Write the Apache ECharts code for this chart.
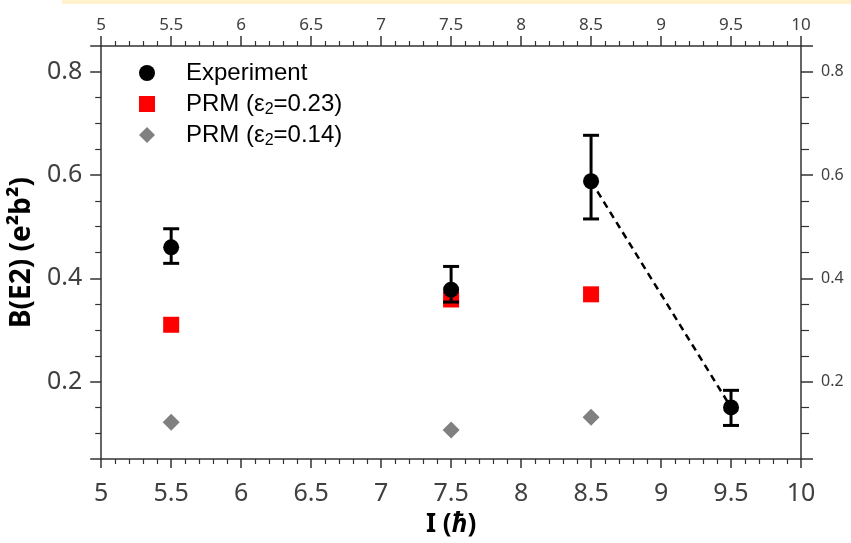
<!DOCTYPE html>
<html>
<head>
<meta charset="utf-8">
<script src="https://cdn.jsdelivr.net/npm/echarts@6/dist/echarts.min.js"></script>
<style>
html,body{margin:0;padding:0;background:#fff;}
#chart{width:851px;height:543px;}
</style>
</head>
<body>
<div id="chart"></div>
<script>
// Data
const spins = [5.5, 7.5, 8.5, 9.5];
const expValues = [0.460, 0.378, 0.588, 0.150];
const expUpper = [0.496, 0.423, 0.677, 0.183];
const expLower = [0.429, 0.354, 0.515, 0.115];
const prmSpins = [5.5, 7.5, 8.5];
const prm023 = [0.310, 0.359, 0.369];
const prm014 = [0.121, 0.106, 0.131];
const dashedSpins = [8.5, 9.5];
const dashedValues = [0.588, 0.150];
const seriesNames = ['Experiment', 'PRM (ε2=0.23)', 'PRM (ε2=0.14)'];

const zip = (xs, ys) => xs.map((x, i) => [x, ys[i]]);

const axisColor = '#333';
const labelColor = '#404040';

function xAxisCfg(pos, fontSize, margin, majorLen, minorLen, withName) {
  const cfg = {
    type: 'value', position: pos, min: 5, max: 10, interval: 0.5,
    axisLine: { show: true, onZero: false, lineStyle: { color: axisColor, width: 1.5 } },
    axisTick: { show: true, inside: false, length: majorLen, lineStyle: { color: axisColor, width: 1.5 } },
    minorTick: { show: true, splitNumber: 5, length: minorLen, lineStyle: { color: axisColor, width: 1.2 } },
    splitLine: { show: false },
    axisLabel: { fontSize: fontSize, color: labelColor, margin: margin, fontFamily: 'Noto Sans' }
  };
  if (withName) {
    cfg.name = '{b|I (}{i|ħ}{b|)}';
    cfg.nameLocation = 'middle';
    cfg.nameGap = 53;
    cfg.nameTextStyle = {
      rich: {
        b: { fontSize: 26, fontWeight: 'bold', color: '#000', fontFamily: 'Noto Sans' },
        i: { fontSize: 26, fontWeight: 'bold', fontStyle: 'italic', color: '#000', fontFamily: 'Noto Sans' }
      }
    };
  }
  return cfg;
}

function yAxisCfg(pos, fontSize, margin, majorLen, minorLen, withName) {
  const cfg = {
    type: 'value', position: pos, min: 0.05, max: 0.85, splitNumber: 4,
    axisLine: { show: true, onZero: false, lineStyle: { color: axisColor, width: 1.5 } },
    axisTick: { show: true, inside: false, length: majorLen, lineStyle: { color: axisColor, width: 1.5 } },
    minorTick: { show: true, splitNumber: 4, length: minorLen, lineStyle: { color: axisColor, width: 1.2 } },
    splitLine: { show: false },
    axisLabel: { fontSize: fontSize, color: labelColor, margin: margin, fontFamily: 'Noto Sans',
      showMinLabel: false, showMaxLabel: false,
      formatter: v => v.toFixed(1) }
  };
  if (withName) {
    cfg.name = 'B(E2) (e²b²)';
    cfg.nameLocation = 'middle';
    cfg.nameGap = 57;
    cfg.nameTextStyle = { fontSize: 28, fontWeight: 'bold', color: '#000', fontFamily: 'Noto Sans' };
  }
  return cfg;
}

const chart = echarts.init(document.getElementById('chart'), null, { renderer: 'canvas' });

const legendRich = {
  a: { fontSize: 24, color: '#000', fontFamily: 'Liberation Sans' },
  s: { fontSize: 16, color: '#000', fontFamily: 'Liberation Sans', verticalAlign: 'bottom', padding: [10, 0, 0, 0] }
};

chart.setOption({
  animation: false,
  backgroundColor: '#fff',
  graphic: [{
    type: 'rect', left: 62, top: 0, shape: { width: 789, height: 4 },
    style: { fill: '#FFF2CC' }, silent: true
  }],
  grid: { left: 101, right: 50, top: 46, bottom: 82, containLabel: false },
  legend: {
    orient: 'vertical', left: 134, top: 54,
    itemWidth: 16, itemHeight: 16, itemGap: 3,
    data: [
      { name: seriesNames[0], icon: 'circle' },
      { name: seriesNames[1], icon: 'rect' },
      { name: seriesNames[2], icon: 'diamond' }
    ],
    formatter: name => {
      const m = name.split('ε2');
      if (m.length === 2) return '{a|' + m[0] + 'ε}{s|2}{a|' + m[1] + '}';
      return '{a|' + name + '}';
    },
    textStyle: { lineHeight: 28, padding: [0, 0, 0, 26], rich: legendRich }
  },
  xAxis: [
    xAxisCfg('bottom', 25, 22, 9, 5, true),
    xAxisCfg('top', 17, 12, 10, 5, false)
  ],
  yAxis: [
    yAxisCfg('left', 25, 19, 11, 6, true),
    yAxisCfg('right', 16, 20, 12, 8, false)
  ],
  series: [
    {
      type: 'line', name: 'dashed', data: zip(dashedSpins, dashedValues),
      symbol: 'none', z: 1,
      lineStyle: { color: '#000', width: 2.5, type: [7, 5] }
    },
    {
      type: 'scatter', name: seriesNames[1], data: zip(prmSpins, prm023),
      symbol: 'rect', symbolSize: 16, z: 2,
      itemStyle: { color: '#FF0000', opacity: 1 }
    },
    {
      type: 'scatter', name: seriesNames[2], data: zip(prmSpins, prm014),
      symbol: 'diamond', symbolSize: 17, z: 2,
      itemStyle: { color: '#808080', opacity: 1 }
    },
    {
      type: 'custom', name: 'errors', z: 3,
      data: spins.map((x, i) => [x, expLower[i], expUpper[i]]),
      encode: { x: 0, y: [1, 2] },
      renderItem: (params, api) => {
        const x = api.value(0);
        const lo = api.coord([x, api.value(1)]);
        const hi = api.coord([x, api.value(2)]);
        const hw = 8;
        const st = { stroke: '#000', lineWidth: 3 };
        return {
          type: 'group',
          children: [
            { type: 'line', shape: { x1: lo[0], y1: lo[1], x2: hi[0], y2: hi[1] }, style: st },
            { type: 'line', shape: { x1: hi[0] - hw, y1: hi[1], x2: hi[0] + hw, y2: hi[1] }, style: st },
            { type: 'line', shape: { x1: lo[0] - hw, y1: lo[1], x2: lo[0] + hw, y2: lo[1] }, style: st }
          ]
        };
      }
    },
    {
      type: 'scatter', name: seriesNames[0], data: zip(spins, expValues),
      symbol: 'circle', symbolSize: 16, z: 4,
      itemStyle: { color: '#000', opacity: 1 }
    }
  ]
});
</script>
</body>
</html>
